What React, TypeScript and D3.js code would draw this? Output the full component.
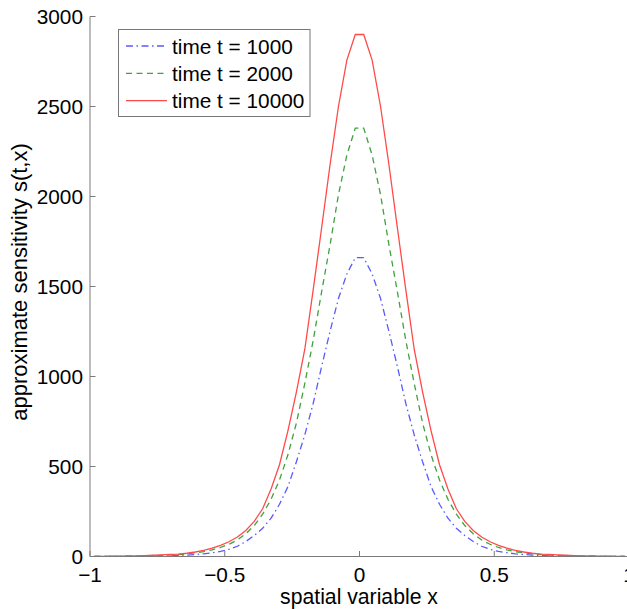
import React from "react";
import * as d3 from "d3";

// x grid: cell centres, h = 1/32
const xGrid: number[] = d3.range(64).map((k) => -1 + (k + 0.5) / 32);

// values, left half (x = -0.984 ... -0.016) and right half (x = 0.016 ... 0.984)
const redLeft = [1, 1, 2, 2, 3, 4, 5, 7, 9, 12, 13, 18, 25, 34, 46, 62, 82, 108, 145, 195, 265, 375, 510, 698, 912, 1150, 1481, 1825, 2175, 2500, 2758, 2900];
const redRight = [2900, 2758, 2500, 2175, 1825, 1481, 1150, 912, 698, 510, 375, 265, 195, 145, 108, 82, 62, 46, 34, 25, 18, 13, 12, 9, 7, 5, 4, 3, 2, 2, 1, 1];
const greenLeft = [0.5, 1, 1, 1, 2, 2.5, 3, 4, 6, 8, 11, 15, 20, 27, 37, 50, 68, 92, 126, 172, 235, 318, 425, 565, 740, 960, 1200, 1470, 1730, 2010, 2230, 2380];
const greenRight = [2380, 2230, 2010, 1730, 1470, 1200, 960, 740, 565, 425, 318, 235, 172, 126, 92, 68, 50, 37, 27, 20, 15, 11, 8, 6, 4, 3, 2.5, 2, 1, 1, 1, 0.5];
const blueLeft = [0.2, 0.3, 0.5, 0.6, 0.9, 1.2, 1.6, 2, 3, 4, 6, 8, 11, 15, 21, 28, 40, 57, 83, 117, 157, 213, 290, 388, 525, 675, 850, 1055, 1250, 1433, 1570, 1660];
const blueRight = [1660, 1570, 1433, 1250, 1055, 850, 675, 525, 388, 290, 213, 157, 117, 83, 57, 40, 28, 21, 15, 11, 8, 6, 4, 3, 2, 1.6, 1.2, 0.9, 0.6, 0.5, 0.3, 0.2];

const seriesNames = ["time t = 1000", "time t = 2000", "time t = 10000"];
const xTicks = [-1, -0.5, 0, 0.5, 1];
const xTickLabels = ["\u22121", "\u22120.5", "0", "0.5", "1"];
const yTicks = [0, 500, 1000, 1500, 2000, 2500, 3000];

const W = 627;
const H = 609;
const FONT = "'Liberation Sans', Arial, Helvetica, sans-serif";

export default function App() {
  const x = d3.scaleLinear().domain([-1, 1]).range([90, 629]);
  const y = d3.scaleLinear().domain([0, 3000]).range([556.5, 16.5]);

  const series = [
    { name: seriesNames[0], values: [...blueLeft, ...blueRight], color: "#5a5aff", dash: "7,3.5,1.5,3.5" },
    { name: seriesNames[1], values: [...greenLeft, ...greenRight], color: "#3fa23f", dash: "6,4.5" },
    { name: seriesNames[2], values: [...redLeft, ...redRight], color: "#ff4a4a", dash: "" },
  ];

  const line = d3
    .line<number>()
    .x((_, i) => x(xGrid[i]))
    .y((d) => y(d));

  const axisColor = "#7a7a7a";
  const fs = 20.8;

  return (
    <svg
      width={W}
      height={H}
      style={{ position: "absolute", left: 0, top: 0, background: "#fff" }}
      fontFamily={FONT}
    >
      <rect x={0} y={0} width={W} height={H} fill="#fff" />
      {/* curves */}
      {series.map((s) => (
        <path
          key={s.name}
          d={line(s.values) || ""}
          fill="none"
          stroke={s.color}
          strokeWidth={1.3}
          strokeDasharray={s.dash || undefined}
        />
      ))}
      {/* axes */}
      <line x1={x(-1)} x2={x(-1)} y1={y(0)} y2={y(3000)} stroke={axisColor} strokeWidth={1} />
      <line x1={x(-1)} x2={x(1)} y1={y(0)} y2={y(0)} stroke={axisColor} strokeWidth={1} />
      {xTicks.map((t, i) => (
        <g key={"xt" + t}>
          <line x1={x(t)} x2={x(t)} y1={y(0)} y2={y(0) - 5.5} stroke={axisColor} strokeWidth={1} />
          <text x={x(t)} y={581.5} fontSize={fs} textAnchor="middle" fill="#000">
            {xTickLabels[i]}
          </text>
        </g>
      ))}
      {yTicks.map((t) => (
        <g key={"yt" + t}>
          <line x1={x(-1)} x2={x(-1) + 5.5} y1={y(t)} y2={y(t)} stroke={axisColor} strokeWidth={1} />
          <text x={83} y={y(t) + 7.5} fontSize={fs} textAnchor="end" fill="#000">
            {t}
          </text>
        </g>
      ))}
      {/* axis labels */}
      <text x={359} y={604} fontSize={21.2} textAnchor="middle" fill="#000">
        spatial variable x
      </text>
      <text
        transform={`translate(27,282) rotate(-90)`}
        fontSize={22}
        textAnchor="middle"
        fill="#000"
      >
        approximate sensitivity s(t,x)
      </text>
      {/* legend */}
      <rect x={118.5} y={29.5} width={191.5} height={87} fill="#fff" stroke="#777" strokeWidth={1} />
      {series.map((s, i) => (
        <g key={"lg" + s.name}>
          <line
            x1={126}
            x2={167}
            y1={46 + i * 27.3}
            y2={46 + i * 27.3}
            stroke={s.color}
            strokeWidth={1.3}
            strokeDasharray={s.dash || undefined}
          />
          <text x={172} y={46 + i * 27.3 + 7.5} fontSize={fs} fill="#000">
            {s.name}
          </text>
        </g>
      ))}
    </svg>
  );
}
